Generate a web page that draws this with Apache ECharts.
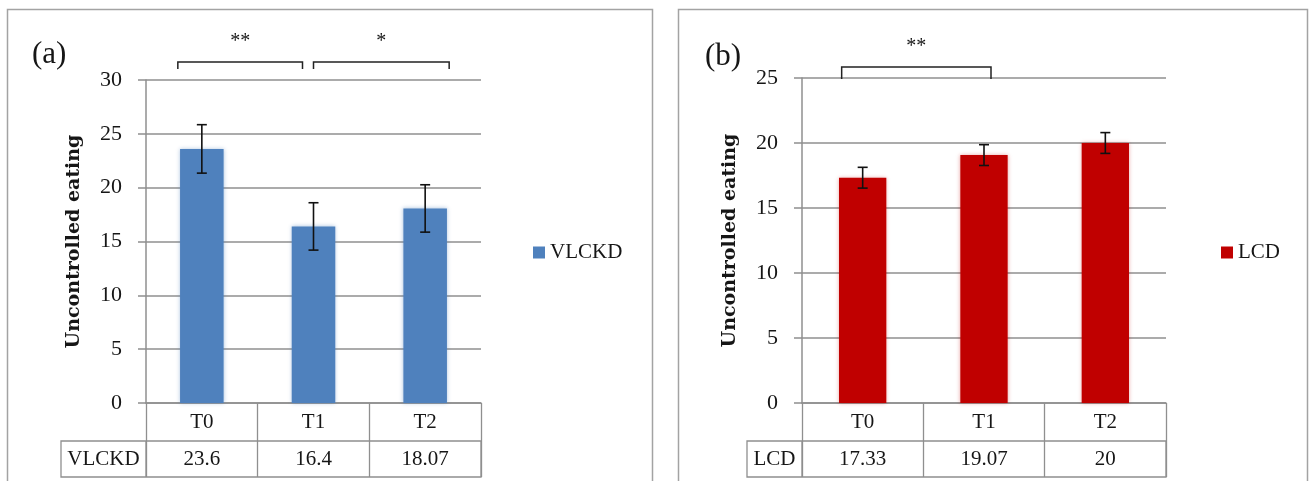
<!DOCTYPE html>
<html>
<head>
<meta charset="utf-8">
<title>Uncontrolled eating: VLCKD vs LCD</title>
<script src="https://cdn.jsdelivr.net/npm/echarts@6/dist/echarts.min.js"></script>
<style>
  html, body { margin: 0; padding: 0; background: #ffffff; }
  #chart { width: 1309px; height: 481px; }
</style>
</head>
<body>
<div id="chart"></div>
<script>
// Time points shared by both panels
const categories = ['T0', 'T1', 'T2'];

// Panel (a): very-low-calorie ketogenic diet
const vlckdName = 'VLCKD';
const vlckdValues = [23.6, 16.4, 18.07];
const vlckdErrors = [2.25, 2.2, 2.2];

// Panel (b): low-calorie diet
const lcdName = 'LCD';
const lcdValues = [17.33, 19.07, 20];
const lcdErrors = [0.8, 0.8, 0.8];

// Y-axis ranges
const vlckdAxis = { min: 0, max: 30, interval: 5 };
const lcdAxis = { min: 0, max: 25, interval: 5 };

// Significance brackets: which time points they join and the star text
const vlckdBrackets = [
  { from: 'T0', to: 'T1', mark: '**' },
  { from: 'T1', to: 'T2', mark: '*' }
];
const lcdBrackets = [
  { from: 'T0', to: 'T1', mark: '**' }
];

const axisTitle = 'Uncontrolled eating';

// ---------- styling ----------
const SERIF = '"Liberation Serif", "DejaVu Serif", serif';
const TITLE_FONT = '"DejaVu Serif", serif';
const LABEL_SIZE = 21;
const GRID_GRAY = '#8f8f8f';
const FRAME_GRAY = '#a3a3a3';
const TEXT = '#161616';
const BLUE = '#4F81BD';
const RED = '#C00000';

// panel layout (pixels)
const panels = [
  { left: 146, top: 80, width: 335, height: 323, labelCellLeft: 61, frameX: 7.5, frameW: 645, letter: '(a)', letterX: 32, letterY: 55, legendLeft: 528 },
  { left: 802, top: 78, width: 364, height: 325, labelCellLeft: 747, frameX: 678.5, frameW: 629, letter: '(b)', letterX: 705, letterY: 57, legendLeft: 1216 }
];
const ROW_H = 38;   // height of the category row below the plot
const ROW2_H = 36;  // height of the values row

function errorRenderer(color) {
  return function (params, api) {
    const idx = api.value(0);
    const v = api.value(1);
    const e = api.value(2);
    const top = api.coord([idx, v + e]);
    const bot = api.coord([idx, v - e]);
    const hw = 5;
    const style = { stroke: color, lineWidth: 1.6 };
    return {
      type: 'group',
      children: [
        { type: 'line', shape: { x1: top[0], y1: top[1], x2: bot[0], y2: bot[1] }, style: style },
        { type: 'line', shape: { x1: top[0] - hw, y1: top[1], x2: top[0] + hw, y2: top[1] }, style: style },
        { type: 'line', shape: { x1: bot[0] - hw, y1: bot[1], x2: bot[0] + hw, y2: bot[1] }, style: style }
      ]
    };
  };
}

function catAxes(gridIndex, values) {
  return [
    {
      gridIndex: gridIndex,
      type: 'category',
      data: categories,
      axisLine: { show: true, lineStyle: { color: GRID_GRAY, width: 1.5 } },
      axisTick: { show: true, length: ROW_H + ROW2_H, lineStyle: { color: GRID_GRAY, width: 1.3 } },
      axisLabel: { fontFamily: SERIF, fontSize: LABEL_SIZE, color: TEXT, margin: 19, verticalAlign: 'middle' },
      splitLine: { show: false }
    },
    {
      gridIndex: gridIndex,
      type: 'category',
      position: 'bottom',
      offset: ROW_H,
      data: values.map(String),
      axisLine: { show: false },
      axisTick: { show: false },
      axisLabel: { fontFamily: SERIF, fontSize: LABEL_SIZE, color: TEXT, margin: 18, verticalAlign: 'middle' },
      splitLine: { show: false }
    }
  ];
}

function valueAxis(gridIndex, range) {
  return {
    gridIndex: gridIndex,
    type: 'value',
    min: range.min,
    max: range.max,
    interval: range.interval,
    axisLine: { show: true, lineStyle: { color: GRID_GRAY, width: 1.5 } },
    axisTick: { show: true, length: 8, lineStyle: { color: GRID_GRAY, width: 1.5 } },
    splitLine: { show: true, lineStyle: { color: GRID_GRAY, width: 1.5 } },
    axisLabel: { fontFamily: SERIF, fontSize: 22, color: TEXT, margin: 24 },
    name: axisTitle,
    nameLocation: 'middle',
    nameGap: 62,
    nameRotate: 90,
    nameTextStyle: { fontFamily: TITLE_FONT, fontWeight: 'bold', fontSize: 19, color: TEXT }
  };
}

function barSeries(name, values, color, xIdx, yIdx) {
  return {
    name: name,
    type: 'bar',
    xAxisIndex: xIdx,
    yAxisIndex: yIdx,
    data: values,
    barWidth: '39%',
    itemStyle: { color: color, shadowBlur: 4, shadowColor: color === BLUE ? 'rgba(79,129,189,0.45)' : 'rgba(192,0,0,0.35)' },
    emphasis: { disabled: true },
    z: 2
  };
}

function errorSeries(values, errors, xIdx, yIdx) {
  return {
    type: 'custom',
    xAxisIndex: xIdx,
    yAxisIndex: yIdx,
    renderItem: errorRenderer('#111111'),
    data: values.map((v, i) => [i, v, errors[i]]),
    encode: { x: 0, y: 1 },
    z: 5,
    silent: true
  };
}

const chart = echarts.init(document.getElementById('chart'), null, { renderer: 'canvas' });

const staticGraphics = [];
panels.forEach((p, k) => {
  // panel frame
  staticGraphics.push({
    type: 'rect', silent: true, z: 0,
    shape: { x: p.frameX, y: 9.5, width: p.frameW, height: 490 },
    style: { fill: null, stroke: FRAME_GRAY, lineWidth: 1.5 }
  });
  // panel letter
  staticGraphics.push({
    type: 'text', silent: true,
    style: { x: p.letterX, y: p.letterY, text: p.letter, font: '31px ' + SERIF, fill: TEXT, textVerticalAlign: 'middle' }
  });
  // values row with its series-name cell
  const rowTop = p.top + p.height + ROW_H;
  staticGraphics.push({
    type: 'rect', silent: true, z: 1,
    shape: { x: p.labelCellLeft, y: rowTop, width: p.left + p.width - p.labelCellLeft, height: ROW2_H },
    style: { fill: null, stroke: GRID_GRAY, lineWidth: 1.3 }
  });
  staticGraphics.push({
    type: 'line', silent: true, z: 1,
    shape: { x1: p.left, y1: rowTop, x2: p.left, y2: rowTop + ROW2_H },
    style: { stroke: GRID_GRAY, lineWidth: 1.3 }
  });
  staticGraphics.push({
    type: 'text', silent: true,
    style: {
      x: (p.labelCellLeft + p.left) / 2, y: rowTop + ROW2_H / 2,
      text: k === 0 ? vlckdName : lcdName,
      font: LABEL_SIZE + 'px ' + SERIF, fill: TEXT, textAlign: 'center', textVerticalAlign: 'middle'
    }
  });
});

const legendText = { fontFamily: SERIF, fontSize: LABEL_SIZE, color: TEXT, padding: [0, 0, 0, 0] };
const option = {
  animation: false,
  backgroundColor: '#ffffff',
  grid: panels.map(p => ({ left: p.left, top: p.top, width: p.width, height: p.height, containLabel: false })),
  xAxis: [].concat(catAxes(0, vlckdValues), catAxes(1, lcdValues)),
  yAxis: [valueAxis(0, vlckdAxis), valueAxis(1, lcdAxis)],
  legend: [
    {
      data: [vlckdName], left: panels[0].legendLeft, top: 237, icon: 'rect', itemWidth: 12, itemHeight: 12, itemGap: 6,
      textStyle: legendText, selectedMode: false
    },
    {
      data: [lcdName], left: panels[1].legendLeft, top: 237, icon: 'rect', itemWidth: 12, itemHeight: 12, itemGap: 6,
      textStyle: legendText, selectedMode: false
    }
  ],
  series: [
    barSeries(vlckdName, vlckdValues, BLUE, 0, 0),
    errorSeries(vlckdValues, vlckdErrors, 0, 0),
    barSeries(lcdName, lcdValues, RED, 2, 1),
    errorSeries(lcdValues, lcdErrors, 2, 1)
  ],
  graphic: staticGraphics
};

chart.setOption(option);

// Brackets above the bars: ends sit relative to the joined categories' centres
const bracketLayout = [
  { xAxisIndex: 0, list: vlckdBrackets, y: 62, drop: 7, ends: [[-24, -11], [0, 24]] },
  { xAxisIndex: 2, list: lcdBrackets, y: 67, drop: 12, ends: [[-21, 7]] }
];
const bracketGraphics = [];
bracketLayout.forEach(b => {
  b.list.forEach((br, i) => {
    const x1 = chart.convertToPixel({ xAxisIndex: b.xAxisIndex }, br.from) + b.ends[i][0];
    const x2 = chart.convertToPixel({ xAxisIndex: b.xAxisIndex }, br.to) + b.ends[i][1];
    bracketGraphics.push({
      type: 'polyline', silent: true, z: 10,
      shape: { points: [[x1, b.y + b.drop], [x1, b.y], [x2, b.y], [x2, b.y + b.drop]] },
      style: { stroke: '#222', lineWidth: 1.5, fill: null }
    });
    bracketGraphics.push({
      type: 'text', silent: true, z: 10,
      style: { x: (x1 + x2) / 2, y: b.y - 20, text: br.mark, font: '20px ' + SERIF, fill: TEXT, textAlign: 'center', textVerticalAlign: 'middle' }
    });
  });
});
chart.setOption({ graphic: staticGraphics.concat(bracketGraphics) });
</script>
</body>
</html>
